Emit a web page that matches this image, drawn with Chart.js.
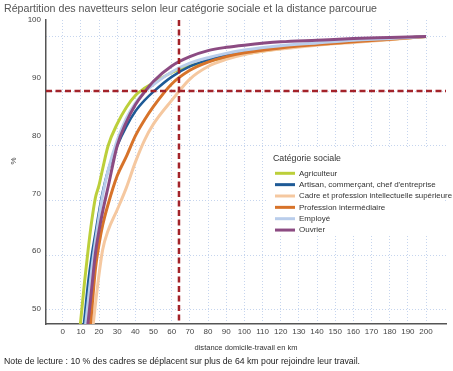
<!DOCTYPE html>
<html>
<head>
<meta charset="utf-8">
<script src="https://cdn.jsdelivr.net/npm/chart.js@4"></script>
<style>
  body { margin: 0; background: #fff; }
</style>
</head>
<body>
<canvas id="chart" width="453" height="371"></canvas>
<script>
// distance in km (x) and cumulative share of commuters in % (y)
const distancesKm = [8, 10, 12, 14, 16, 18, 20, 22, 25, 30, 35, 40, 45, 50, 60, 70, 80, 90, 100, 120, 140, 160, 180, 200];
const agriculteur = [42, 48.3, 55, 61, 66.3, 70.5, 72.8, 75.8, 80, 84, 87, 89.2, 90.5, 91.5, 93.4, 94.6, 95.5, 96.2, 96.8, 97.8, 98.5, 99, 99.5, 100];
const artisan = [35, 42, 48.5, 55, 60, 64, 68, 71.5, 75.5, 80, 83.5, 86.3, 88.3, 89.9, 92.6, 94.5, 95.7, 96.5, 97.1, 98, 98.7, 99.2, 99.6, 100];
const cadre = [20, 27, 33, 39, 45, 51, 56.5, 61, 64.5, 68.3, 72.3, 77, 81, 84, 88.3, 92.2, 94.5, 95.8, 96.7, 97.7, 98.4, 98.9, 99.4, 100];
const professionInter = [25, 31, 37, 43, 50, 57.5, 62, 65.5, 69.3, 74.5, 78, 81.8, 84.7, 87.2, 91.3, 93.8, 95.3, 96.3, 97, 97.9, 98.5, 99, 99.5, 100];
const employe = [32, 39, 45.5, 51.5, 57.5, 62.5, 67, 71, 75.5, 81, 85, 87.8, 89.8, 91.2, 93.5, 95.1, 96.1, 96.9, 97.5, 98.3, 98.8, 99.3, 99.6, 100];
const ouvrier = [28, 35, 42, 47.8, 54, 60.3, 64.5, 68, 72.5, 80, 84.3, 87.5, 89.8, 91.8, 94.6, 96.3, 97.4, 98, 98.4, 99, 99.3, 99.6, 99.8, 100];

const categories = ["Agriculteur", "Artisan, commerçant, chef d'entreprise", "Cadre et profession intellectuelle supérieure", "Profession intermédiaire", "Employé", "Ouvrier"];
const seriesValues = [agriculteur, artisan, cadre, professionInter, employe, ouvrier];
const colors = ["#bccf3a", "#1e5a96", "#f5c8a0", "#d7732a", "#b9cdeb", "#8c4b82"];
const widths = [3, 2.5, 3, 3, 3, 3];

const xTickLabels = [0, 10, 20, 30, 40, 50, 60, 70, 80, 90, 100, 110, 120, 130, 140, 150, 160, 170, 180, 190, 200];
const yTickLabels = [50, 60, 70, 80, 90, 100];
const refDistance = 64; // 10 % des cadres au-delà de 64 km
const refPercent = 90;

const titleText = "Répartition des navetteurs selon leur catégorie sociale et la distance parcourue";
const xTitle = "distance domicile-travail en km";
const noteText = "Note de lecture : 10 % des cadres se déplacent sur plus de 64 km pour rejoindre leur travail.";
const legendTitle = "Catégorie sociale";

const FONT = "'Liberation Sans', Arial, sans-serif";
const gridColor = "#c6d5ee";

const datasets = categories.map((name, i) => ({
  label: name,
  data: distancesKm.map((km, j) => ({ x: km, y: seriesValues[i][j] })),
  borderColor: colors[i],
  backgroundColor: colors[i],
  borderWidth: widths[i],
  pointRadius: 0,
  cubicInterpolationMode: "monotone",
  order: categories.length - 1 - i, // last category drawn on top
}));

// texts, reference lines and in-plot legend
const extrasPlugin = {
  id: "extras",
  afterDatasetsDraw(chart) {
    const { ctx, chartArea, scales } = chart;
    const x = scales.x.getPixelForValue(refDistance);
    const y = scales.y.getPixelForValue(refPercent);
    ctx.save();
    ctx.strokeStyle = "#a3232a";
    ctx.lineWidth = 2.5;
    ctx.setLineDash([6, 3.5]);
    ctx.beginPath();
    ctx.moveTo(chartArea.left, y);
    ctx.lineTo(chartArea.right, y);
    ctx.moveTo(x, chartArea.top);
    ctx.lineTo(x, chartArea.bottom);
    ctx.stroke();
    ctx.restore();
  },
  afterDraw(chart) {
    const { ctx, chartArea } = chart;
    ctx.save();
    ctx.textBaseline = "middle";

    ctx.fillStyle = "#555";
    ctx.font = "11px " + FONT;
    ctx.textAlign = "left";
    ctx.fillText(titleText, 4, 9, 373);

    ctx.fillStyle = "#333";
    ctx.font = "8px " + FONT;
    ctx.textAlign = "center";
    ctx.fillText(xTitle, (chartArea.left + chartArea.right) / 2, 348, 103);

    ctx.fillStyle = "#222";
    ctx.font = "9px " + FONT;
    ctx.textAlign = "left";
    ctx.fillText(noteText, 4, 362, 356);

    // y label
    ctx.save();
    ctx.translate(14, 161);
    ctx.rotate(-Math.PI / 2);
    ctx.fillStyle = "#444";
    ctx.font = "8px " + FONT;
    ctx.textAlign = "center";
    ctx.fillText("%", 0, 0);
    ctx.restore();

    // legend box
    ctx.fillStyle = "#fff";
    ctx.fillRect(266, 149, 179, 87);
    ctx.fillStyle = "#333";
    ctx.font = "9.5px " + FONT;
    ctx.textAlign = "left";
    ctx.fillText(legendTitle, 273, 158, 68);
    ctx.font = "8px " + FONT;
    categories.forEach((name, i) => {
      const ry = 173.3 + i * 11.35;
      ctx.strokeStyle = colors[i];
      ctx.lineWidth = 3;
      ctx.beginPath();
      ctx.moveTo(275, ry);
      ctx.lineTo(295, ry);
      ctx.stroke();
      ctx.fillStyle = "#333";
      ctx.fillText(name, 299, ry, 153);
    });
    ctx.restore();
  },
};

new Chart(document.getElementById("chart"), {
  type: "line",
  data: { datasets },
  options: {
    responsive: false,
    animation: false,
    layout: { padding: { top: 20, right: 7, left: 0, bottom: 0 } },
    plugins: {
      legend: { display: false },
      tooltip: { enabled: false },
    },
    scales: {
      x: {
        type: "linear",
        min: -9.2,
        max: 211,
        afterFit: (s) => { s.height = 47; },
        afterBuildTicks: (s) => { s.ticks = [-9.2].concat(xTickLabels).concat([211]).map((v) => ({ value: v })); },
        ticks: {
          autoSkip: false,
          maxRotation: 0,
          padding: 3,
          color: "#444",
          font: { family: FONT, size: 8 },
          callback: (v) => (xTickLabels.includes(v) ? String(v) : ""),
        },
        grid: {
          drawTicks: false,
          color: (c) => (c.tick && xTickLabels.includes(c.tick.value) ? gridColor : "rgba(0,0,0,0)"),
          lineWidth: 1,
        },
        border: { display: true, color: "#555", width: 1.5, dash: [1, 2] },
      },
      y: {
        type: "linear",
        position: "left",
        min: 47.4,
        max: 103,
        weight: 0,
        afterFit: (s) => { s.width = 0; },
        afterBuildTicks: (s) => { s.ticks = yTickLabels.map((v) => ({ value: v })); },
        ticks: { display: false },
        grid: { drawTicks: false, color: gridColor, lineWidth: 1 },
        border: { display: false, dash: [1, 2] },
      },
      // labels of the original sit on a slightly different scale than its grid
      yLabels: {
        type: "linear",
        position: "left",
        min: 47.4,
        max: 100,
        weight: 1,
        afterFit: (s) => { s.width = 46; },
        afterBuildTicks: (s) => { s.ticks = yTickLabels.map((v) => ({ value: v })); },
        ticks: { padding: 5, color: "#444", font: { family: FONT, size: 8 } },
        grid: { display: false, drawTicks: false },
        border: { display: true, color: "#555", width: 1.5 },
      },
    },
  },
  plugins: [extrasPlugin],
});
</script>
</body>
</html>
